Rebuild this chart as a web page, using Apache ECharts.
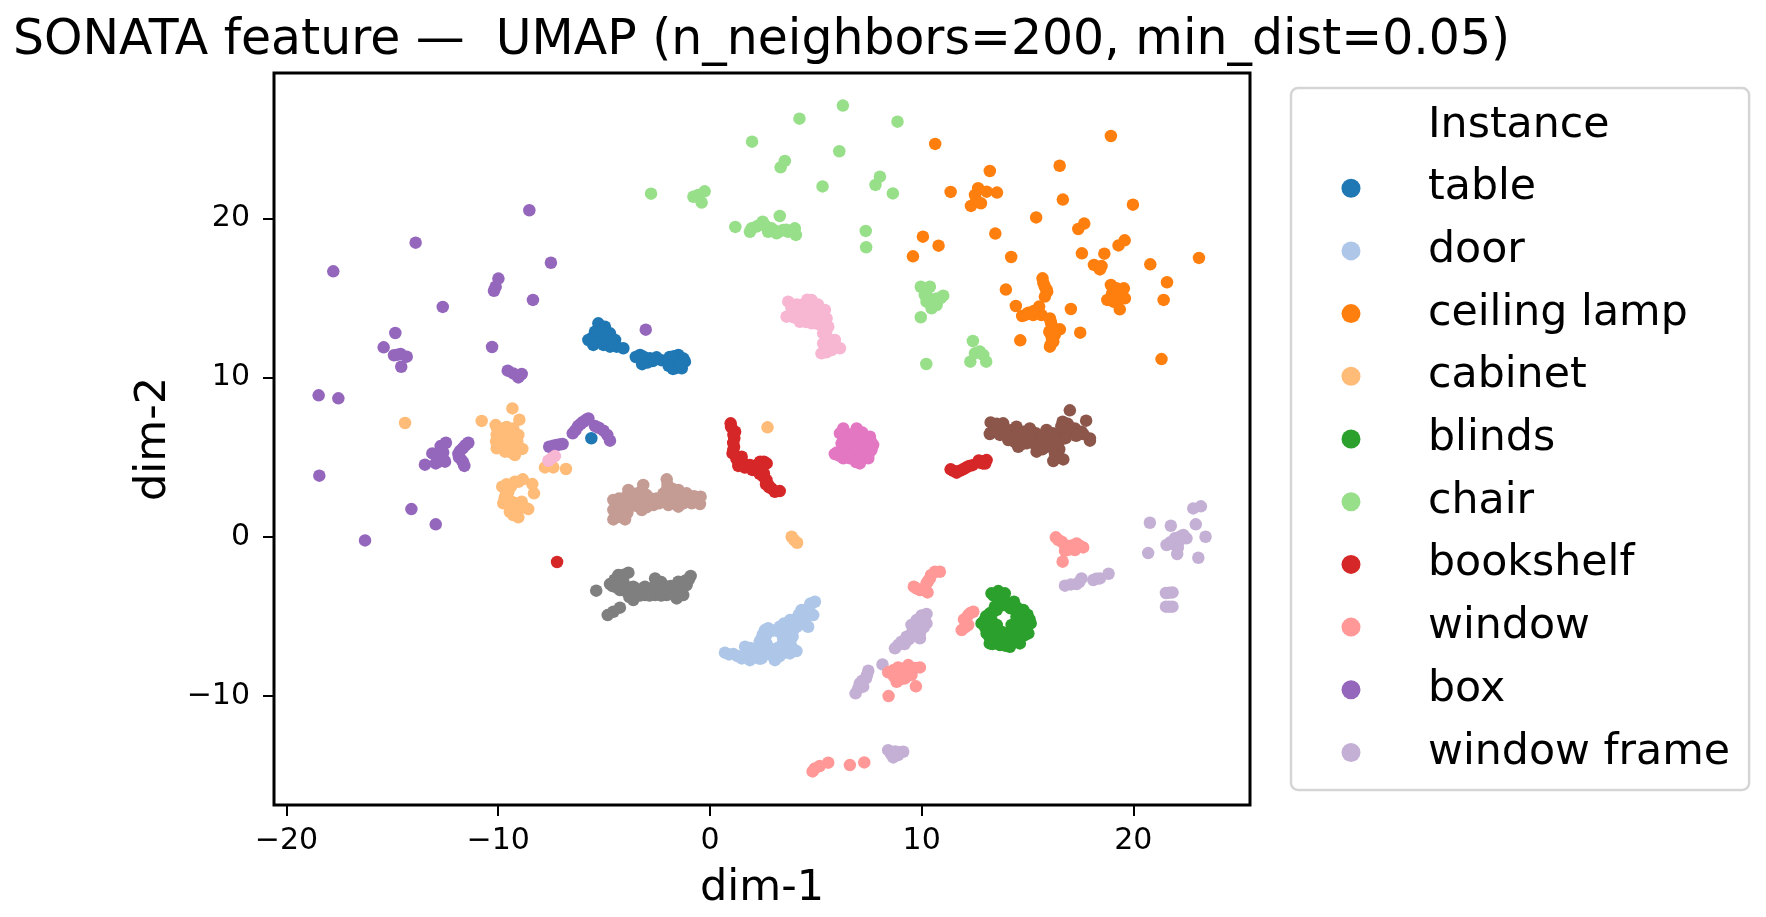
<!DOCTYPE html>
<html>
<head>
<meta charset="utf-8">
<title>SONATA feature UMAP</title>
<style>html,body{margin:0;padding:0;background:#fff}#chart{width:1766px;height:917px}</style>
<script src="https://cdn.jsdelivr.net/npm/echarts@6/dist/echarts.min.js"></script>
</head>
<body>
<div id="chart"></div>
<script>
// Embedding coordinates per instance class: [dim-1, dim-2]
const table = [[-5.27,13.42],[-4.96,13.21],[-5.43,12.89],[-5.03,12.79],[-4.72,12.79],[-5.59,12.48],[-5.19,12.37],[-4.80,12.27],[-4.48,12.37],[-5.51,12.06],[-5.03,12.06],[-4.72,11.95],[-4.41,11.95],[-4.09,11.85],[-5.74,12.37],[-5.1,13.0],[-5.3,12.6],[-4.9,12.5],[-5.4,12.2],[-4.6,12.1],[-3.30,11.43],[-3.07,11.01],[-2.83,11.22],[-2.52,11.28],[-3.14,11.32],[-3.5,11.3],[-2.95,10.95],[-2.7,11.05],[-3.2,10.85],[-2.3,11.1],[-1.49,11.43],[-1.96,11.01],[-1.65,11.01],[-1.18,11.01],[-1.65,10.59],[-1.33,10.59],[-1.41,11.22],[-1.9,11.3],[-1.7,11.35],[-1.55,10.75],[-1.25,11.2],[-1.95,10.75],[-1.75,10.55],[-1.4,10.8],[-5.60,6.19]];
const door = [[0.71,-7.29],[1.11,-7.38],[1.50,-7.65],[1.89,-7.76],[1.66,-6.92],[2.37,-7.65],[2.60,-5.97],[2.44,-6.39],[2.21,-7.02],[4.96,-4.09],[4.88,-4.93],[4.33,-4.61],[3.78,-5.24],[4.64,-5.66],[4.09,-5.66],[3.30,-5.66],[2.60,-5.87],[3.70,-6.08],[3.46,-6.39],[2.67,-6.71],[3.54,-6.92],[4.09,-7.19],[3.78,-7.34],[3.07,-7.76],[2.67,-7.34],[3.15,-7.23],[2.44,-7.65],[0.9,-7.4],[1.3,-7.5],[1.7,-7.4],[2.0,-7.3],[2.0,-7.6],[1.9,-7.0],[2.3,-7.3],[2.6,-7.3],[2.9,-7.45],[3.3,-7.5],[3.5,-7.3],[2.85,-7.05],[2.5,-6.95],[2.35,-6.6],[2.5,-6.15],[2.75,-5.75],[3.0,-5.9],[3.3,-6.0],[3.6,-5.7],[3.9,-6.0],[3.75,-6.45],[3.4,-6.8],[3.2,-7.0],[3.85,-6.9],[4.0,-5.2],[4.3,-5.1],[4.5,-5.2],[4.35,-5.5],[4.6,-4.75],[4.7,-4.4],[4.75,-4.2],[3.5,-5.45],[4.2,-4.9],[3.7,-5.6],[3.9,-6.3],[2.7,-6.1],[2.3,-7.65]];
const ceilingLamp = [[18.94,25.20],[10.64,24.70],[16.52,23.33],[13.22,23.00],[11.37,21.68],[13.56,21.64],[12.67,21.91],[13.07,21.70],[12.52,21.49],[12.59,21.17],[12.80,20.97],[12.33,20.80],[16.67,21.20],[19.98,20.88],[15.41,20.08],[17.68,19.69],[17.40,19.35],[13.48,19.06],[10.06,18.87],[10.80,18.30],[9.59,17.63],[14.23,17.59],[17.57,17.82],[18.63,17.80],[19.59,18.64],[19.30,18.32],[18.14,17.09],[18.42,16.81],[18.50,17.02],[20.80,17.13],[23.10,17.53],[21.59,16.00],[21.43,14.89],[21.33,11.17],[13.98,15.54],[14.45,14.51],[15.71,16.25],[15.82,15.72],[15.93,15.41],[15.82,15.10],[15.55,14.47],[15.04,14.09],[14.75,13.88],[15.27,13.94],[15.66,13.94],[16.06,13.73],[16.14,13.31],[16.53,13.04],[16.03,12.89],[16.29,12.68],[16.22,12.27],[16.06,11.95],[14.66,12.35],[17.49,12.83],[17.05,14.32],[18.94,15.83],[19.21,15.62],[19.55,15.62],[19.29,15.30],[19.60,14.99],[19.21,14.99],[18.77,14.89],[19.05,14.78],[19.36,14.30],[15.75,15.95],[15.9,15.55],[15.3,14.2],[15.5,14.1],[14.9,13.95],[16.1,13.5],[16.2,13.1],[16.15,12.5],[16.1,12.1],[19.0,15.3],[19.4,15.0],[19.0,15.1]];
const cabinet = [[-14.40,7.15],[-10.78,7.28],[-9.33,8.07],[-9.00,7.36],[-10.12,7.02],[-9.76,6.81],[-9.29,6.81],[-10.07,6.40],[-9.60,6.40],[-9.05,6.40],[-9.76,6.19],[-9.29,6.19],[-10.07,5.56],[-9.68,5.35],[-9.21,5.14],[-8.86,5.52],[-9.36,5.66],[-9.76,5.77],[-9.5,6.6],[-9.85,6.1],[-9.5,6.0],[-9.1,6.0],[-9.5,5.6],[-9.4,5.3],[-9.1,5.6],[-9.6,6.9],[-10.05,6.8],[-10.1,6.0],[-9.81,3.15],[-9.52,2.83],[-9.21,3.46],[-8.84,3.61],[-8.39,3.31],[-8.31,2.73],[-9.76,2.10],[-9.36,2.20],[-8.89,2.20],[-8.58,1.74],[-9.05,1.68],[-9.45,1.57],[-9.05,1.22],[-9.29,1.36],[-9.6,3.3],[-9.4,3.15],[-9.05,3.45],[-9.65,2.6],[-9.5,2.3],[-9.2,2.1],[-9.5,1.95],[-9.2,1.7],[-8.8,1.9],[-9.7,2.4],[-7.79,4.36],[-7.40,4.36],[-6.80,4.26],[2.72,6.88],[3.86,0.00],[3.98,-0.21],[4.12,-0.38]];
const blinds = [[13.62,-3.42],[13.30,-3.56],[13.93,-3.56],[13.70,-3.98],[14.36,-4.09],[14.80,-4.61],[15.15,-5.45],[15.04,-6.08],[14.64,-6.71],[14.17,-6.92],[13.70,-6.81],[13.22,-6.71],[12.83,-5.45],[13.22,-4.82],[13.46,-4.40],[14.01,-4.19],[14.48,-5.03],[14.48,-5.66],[13.30,-5.24],[13.30,-5.87],[13.77,-5.97],[14.17,-5.97],[14.80,-5.87],[14.80,-5.24],[14.17,-6.50],[13.07,-6.08],[13.62,-6.50],[14.48,-6.29],[13.9,-4.3],[14.2,-4.5],[14.5,-4.45],[14.2,-4.2],[13.65,-4.35],[14.55,-4.75],[15.0,-4.9],[15.1,-5.2],[15.0,-5.6],[14.95,-5.85],[14.65,-5.4],[14.6,-5.95],[14.3,-6.15],[14.4,-6.6],[14.0,-6.3],[13.85,-6.5],[13.95,-6.85],[13.45,-6.3],[13.35,-6.75],[13.2,-6.3],[13.15,-5.6],[13.0,-5.7],[12.95,-5.3],[13.05,-5.0],[13.2,-5.0],[13.4,-4.7],[13.55,-4.6],[13.4,-3.7],[13.75,-3.65],[13.55,-3.8],[14.85,-6.2],[13.55,-5.55],[14.25,-5.55]];
const chair = [[1.99,24.84],[-2.78,21.57],[-0.25,21.72],[-0.55,21.49],[-0.78,21.38],[-0.39,21.01],[1.20,19.48],[1.89,19.18],[1.97,19.39],[2.49,19.81],[6.28,27.11],[4.23,26.29],[8.86,26.10],[6.11,24.24],[3.54,23.63],[3.34,23.23],[5.32,22.03],[8.03,22.64],[7.82,22.12],[8.64,21.59],[3.30,20.17],[2.67,19.50],[2.91,19.39],[2.75,19.18],[3.15,19.08],[3.46,19.29],[3.70,19.18],[4.01,19.39],[4.06,18.98],[2.55,19.65],[3.05,19.25],[3.3,19.2],[3.6,19.3],[3.85,19.25],[2.2,19.5],[2.35,19.6],[7.36,19.23],[7.38,18.20],[9.96,15.72],[10.39,15.72],[10.15,15.20],[11.02,15.16],[10.71,14.98],[10.23,14.78],[10.47,14.36],[10.71,14.57],[10.2,15.45],[10.35,15.0],[10.6,14.75],[10.9,15.0],[9.96,13.80],[10.22,10.86],[12.42,12.31],[12.75,11.64],[12.52,11.53],[12.30,11.01],[13.05,11.01],[12.91,11.43]];
const bookshelf = [[0.98,7.13],[1.19,6.60],[1.11,6.40],[1.14,5.66],[1.07,5.24],[1.50,5.03],[1.34,4.45],[1.89,4.51],[2.37,4.72],[2.68,4.61],[2.21,4.19],[2.52,3.78],[2.76,3.25],[2.55,4.72],[2.55,3.98],[2.67,3.57],[2.91,3.04],[3.30,2.87],[3.07,2.83],[1.0,6.9],[1.15,6.2],[1.1,5.9],[1.1,5.45],[1.25,4.9],[1.6,4.6],[1.65,4.35],[2.0,4.2],[2.2,4.5],[2.45,4.3],[2.35,3.95],[2.65,3.3],[2.8,3.1],[11.37,4.24],[11.65,4.03],[11.96,4.24],[12.25,4.45],[12.75,4.66],[13.07,4.82],[12.88,4.61],[11.8,4.15],[11.5,4.15],[12.1,4.35],[12.4,4.5],[12.9,4.75],[13.0,4.6],[12.7,4.8],[-7.22,-1.59]];
const windowPts = [[10.63,-2.20],[10.86,-2.20],[10.39,-2.62],[10.23,-2.93],[9.63,-3.14],[9.92,-3.35],[10.28,-3.50],[10.45,-2.4],[9.75,-3.25],[10.1,-3.35],[10.3,-2.8],[12.44,-4.72],[12.20,-4.93],[12.00,-5.20],[12.20,-5.55],[11.89,-5.87],[12.3,-4.8],[12.1,-5.4],[12.05,-5.7],[16.34,-0.04],[16.61,-0.31],[16.92,-0.63],[17.32,-0.42],[17.63,-0.67],[16.77,-0.88],[17.24,-0.84],[16.45,-0.2],[16.75,-0.5],[17.1,-0.55],[17.45,-0.55],[17.0,-0.8],[16.66,-1.57],[9.92,-8.22],[9.37,-8.07],[8.89,-8.22],[8.42,-8.53],[8.82,-9.12],[9.21,-8.91],[9.52,-8.70],[9.13,-8.49],[9.05,-8.3],[8.65,-8.4],[9.0,-8.7],[9.35,-8.4],[9.7,-8.25],[8.95,-9.0],[8.7,-8.8],[9.73,-9.41],[8.44,-10.02],[5.59,-14.21],[5.19,-14.42],[4.85,-14.76],[4.96,-14.57],[6.61,-14.36],[7.29,-14.19]];
const box = [[-8.53,20.53],[-13.90,18.49],[-17.79,16.69],[-7.51,17.23],[-9.99,16.23],[-10.12,15.72],[-10.20,15.47],[-8.36,14.89],[-12.62,14.45],[-14.86,12.81],[-3.03,13.02],[-15.41,11.91],[-14.92,11.41],[-14.61,11.49],[-14.32,11.32],[-14.58,10.69],[-14.75,11.45],[-10.29,11.93],[-9.55,10.44],[-9.29,10.27],[-9.05,10.02],[-8.89,10.23],[-18.48,8.89],[-17.55,8.70],[-5.74,7.44],[-5.98,7.23],[-6.22,6.96],[-6.48,6.50],[-5.43,6.96],[-5.03,6.67],[-4.72,6.04],[-5.85,7.35],[-6.1,7.1],[-6.35,6.7],[-5.25,6.85],[-4.85,6.4],[-7.59,5.66],[-7.24,5.77],[-6.96,5.83],[-7.4,5.72],[-7.1,5.8],[-12.47,5.91],[-12.72,5.70],[-13.11,5.24],[-12.67,5.24],[-13.46,4.53],[-12.95,4.61],[-12.51,4.72],[-12.75,4.93],[-12.6,5.3],[-12.85,4.7],[-12.6,4.9],[-12.7,5.5],[-11.41,5.91],[-11.68,5.56],[-11.88,5.20],[-11.73,4.82],[-11.60,4.45],[-11.8,5.4],[-11.85,5.0],[-11.65,4.65],[-11.55,5.75],[-18.45,3.84],[-14.10,1.74],[-12.95,0.78],[-16.29,-0.23]];
const windowFrame = [[10.23,-4.86],[9.76,-5.24],[9.52,-5.55],[10.23,-5.45],[9.92,-6.08],[9.52,-6.08],[9.92,-6.39],[9.05,-6.60],[8.74,-7.02],[9.29,-6.29],[10.0,-4.95],[10.05,-5.2],[9.85,-5.5],[9.75,-5.8],[10.1,-5.7],[9.7,-6.2],[9.4,-6.45],[9.2,-6.75],[8.9,-6.8],[8.15,-8.03],[7.48,-8.43],[7.37,-8.91],[7.08,-9.22],[7.24,-9.43],[6.88,-9.85],[7.42,-8.7],[7.2,-9.05],[7.0,-9.55],[8.42,-13.42],[8.66,-13.88],[9.13,-13.52],[8.89,-13.73],[8.55,-13.65],[8.75,-13.5],[8.95,-13.55],[16.77,-3.08],[17.32,-2.98],[17.55,-2.62],[18.11,-2.72],[18.42,-2.62],[18.83,-2.33],[17.05,-3.0],[17.45,-2.85],[18.25,-2.65],[20.78,0.88],[21.77,0.69],[22.95,0.78],[23.41,0.00],[22.83,1.78],[23.19,1.91],[22.36,0.11],[21.96,-0.10],[22.51,-0.10],[21.57,-0.52],[21.96,-0.52],[22.07,-1.09],[22.2,0.0],[22.15,-0.3],[21.75,-0.35],[22.1,-0.7],[20.70,-1.03],[23.07,-1.32],[21.54,-3.54],[21.85,-3.50],[21.7,-3.52],[21.54,-4.40],[21.85,-4.40],[21.7,-4.40]];
// Classes plotted without a legend entry
const brownGroup = [[17.00,7.95],[17.77,7.30],[16.66,7.23],[13.26,7.19],[13.26,6.54],[13.85,7.13],[14.48,6.92],[15.11,6.81],[15.90,6.71],[16.85,6.92],[17.24,6.81],[17.55,6.60],[17.95,6.18],[17.95,6.04],[17.63,6.46],[13.22,6.46],[13.70,6.40],[14.09,6.08],[14.56,5.66],[14.96,5.87],[15.43,5.35],[15.90,5.66],[16.37,5.87],[16.22,4.76],[16.69,4.86],[16.45,5.35],[14.48,6.29],[15.27,6.29],[15.90,6.40],[16.85,6.40],[13.55,7.1],[13.5,6.6],[13.9,6.7],[14.2,6.7],[14.2,6.3],[14.5,6.5],[14.8,6.6],[14.8,6.2],[15.1,6.4],[15.1,6.0],[14.4,5.95],[14.7,5.8],[15.4,6.5],[15.4,6.1],[15.7,6.3],[15.7,5.9],[15.4,5.7],[16.0,6.1],[16.2,6.5],[16.2,6.1],[16.2,5.6],[16.5,6.4],[16.5,6.0],[16.5,5.5],[16.8,6.7],[16.8,6.2],[17.1,6.5],[17.3,6.35],[16.4,5.0],[16.3,5.2],[15.7,5.5],[16.9,7.1],[16.6,6.95]];
const tanGroup = [[-4.56,2.31],[-4.56,1.09],[-4.33,1.99],[-4.01,1.09],[-3.85,2.94],[-4.09,2.41],[-3.70,1.99],[-3.15,3.25],[-3.22,1.68],[-2.99,2.62],[-2.67,1.99],[-2.04,3.61],[-2.04,2.94],[-1.96,1.99],[-1.49,2.94],[-1.49,1.89],[-1.10,2.73],[-0.86,2.10],[-0.44,2.52],[-0.47,2.06],[-2.52,2.41],[-4.09,1.68],[-4.56,1.68],[-4.3,2.4],[-4.3,1.6],[-4.3,1.25],[-3.9,2.6],[-3.7,2.6],[-3.9,1.9],[-3.9,1.5],[-3.95,2.2],[-3.5,2.7],[-3.5,2.3],[-3.5,1.95],[-3.25,2.85],[-3.25,2.4],[-3.25,2.0],[-3.0,2.2],[-3.0,1.85],[-2.8,2.4],[-2.8,2.15],[-2.4,2.1],[-2.2,2.3],[-2.2,2.7],[-1.95,2.5],[-2.0,3.25],[-1.75,3.0],[-1.7,2.5],[-1.7,2.1],[-1.3,2.4],[-1.25,2.1],[-1.0,2.4],[-0.75,2.55],[-0.7,2.2],[-1.85,2.8]];
const magentaGroup = [[6.14,6.50],[6.22,5.87],[5.90,5.20],[6.30,4.93],[7.08,4.61],[7.48,4.93],[7.63,5.45],[7.71,5.77],[7.56,6.29],[6.30,6.81],[6.93,6.81],[7.40,6.29],[6.61,6.19],[7.08,6.19],[6.61,5.56],[7.08,5.56],[6.61,4.93],[7.32,5.66],[6.4,6.5],[6.8,6.5],[7.2,6.55],[6.35,6.1],[6.85,6.0],[7.3,6.0],[6.35,5.7],[6.85,5.8],[7.35,5.35],[6.3,5.3],[6.85,5.25],[7.1,5.0],[6.5,5.1],[6.9,4.7],[6.1,5.1],[7.5,5.2],[6.0,5.3],[7.6,6.0]];
const pinkGroup = [[3.70,14.78],[4.80,14.89],[3.62,13.84],[4.25,14.26],[4.96,14.47],[5.43,14.26],[5.51,13.73],[4.80,13.42],[4.25,13.52],[5.59,13.21],[5.35,12.79],[5.90,12.37],[6.14,11.85],[5.35,12.16],[5.27,11.53],[5.75,11.74],[3.93,14.15],[5.04,13.84],[4.56,13.84],[3.85,14.4],[4.1,14.6],[4.4,14.6],[4.6,14.9],[5.1,14.6],[3.95,13.8],[4.3,13.9],[4.6,14.3],[4.95,14.0],[5.25,14.0],[4.55,13.5],[5.05,13.4],[5.25,13.3],[5.5,12.95],[5.55,12.5],[5.7,12.2],[5.9,12.0],[5.55,11.9],[5.5,11.6],[-7.48,4.93],[-7.63,4.78],[-7.32,5.07]];
const grayGroup = [[-3.85,-2.26],[-4.33,-2.41],[-4.72,-2.98],[-5.37,-3.39],[-4.25,-3.35],[-3.62,-3.14],[-3.62,-3.98],[-3.07,-3.67],[-3.07,-3.14],[-2.59,-2.62],[-2.59,-3.67],[-2.04,-3.14],[-2.04,-3.67],[-1.57,-3.88],[-1.26,-3.67],[-1.49,-2.83],[-1.10,-3.04],[-0.91,-2.47],[-3.85,-3.56],[-4.1,-2.4],[-4.5,-2.7],[-4.6,-3.1],[-4.4,-3.2],[-4.0,-3.4],[-3.8,-3.2],[-3.4,-3.3],[-3.3,-3.7],[-2.85,-3.4],[-2.85,-3.7],[-2.6,-3.1],[-2.35,-3.3],[-2.3,-3.7],[-2.3,-2.85],[-1.85,-3.1],[-1.8,-3.5],[-1.55,-3.3],[-1.3,-3.0],[-1.3,-3.3],[-1.15,-2.75],[-1.0,-2.7],[-3.8,-3.8],[-4.1,-2.75],[-4.25,-4.46],[-4.56,-4.72],[-4.83,-4.93]];

const xTicks = [-20, -10, 0, 10, 20];
const yTicks = [-10, 0, 10, 20];
const legendTitle = 'Instance';
const legendNames = ['table', 'door', 'ceiling lamp', 'cabinet', 'blinds', 'chair', 'bookshelf', 'window', 'box', 'window frame'];

const FONT = 'DejaVu Sans';
const minusLabel = v => String(v).replace('-', '\u2212');

// Drawing order: later series sit on top where clusters touch.
const layers = [
  ['box', box, '#9467bd'],
  ['window frame', windowFrame, '#c5b0d5'],
  ['table', table, '#1f77b4'],
  ['door', door, '#aec7e8'],
  ['ceiling lamp', ceilingLamp, '#ff7f0e'],
  ['cabinet', cabinet, '#ffbb78'],
  ['blinds', blinds, '#2ca02c'],
  ['chair', chair, '#98df8a'],
  ['bookshelf', bookshelf, '#d62728'],
  ['window', windowPts, '#ff9896'],
  ['brown group', brownGroup, '#8c564b'],
  ['tan group', tanGroup, '#c49c94'],
  ['magenta group', magentaGroup, '#e377c2'],
  ['pink group', pinkGroup, '#f7b6d2'],
  ['gray group', grayGroup, '#7f7f7f']
];

const series = layers.map(([name, data, color]) => ({
  name, type: 'scatter', data, symbol: 'circle', symbolSize: 12.5,
  itemStyle: { color, opacity: 1 }, silent: true, animation: false
}));
// Header row of the legend: a series without marks.
series.push({ name: legendTitle, type: 'scatter', data: [], itemStyle: { color: 'rgba(0,0,0,0)' } });

const axisCommon = {
  type: 'value',
  splitLine: { show: false },
  axisLine: { show: false, onZero: false },
  nameLocation: 'middle',
  nameTextStyle: { fontFamily: FONT, fontSize: 43, color: '#000' }
};

const chart = echarts.init(document.getElementById('chart'), null, { renderer: 'canvas' });
chart.setOption({
  animation: false,
  backgroundColor: '#fff',
  title: {
    text: 'SONATA feature \u2014  UMAP (n_neighbors=200, min_dist=0.05)',
    left: 8, top: 12,
    textStyle: { fontFamily: FONT, fontSize: 48.9, fontWeight: 'normal', color: '#000' }
  },
  grid: { left: 274, top: 73, width: 976, height: 732, outerBoundsMode: 'none', show: true, borderColor: '#000', borderWidth: 3, backgroundColor: '#fff' },
  xAxis: Object.assign({}, axisCommon, {
    min: -20.59, max: 25.51,
    name: 'dim-1', nameGap: 62,
    axisTick: { show: true, length: 11, lineStyle: { color: '#000', width: 2 }, customValues: xTicks },
    axisLabel: { fontFamily: FONT, fontSize: 30, color: '#000', margin: 21, customValues: xTicks, formatter: minusLabel }
  }),
  yAxis: Object.assign({}, axisCommon, {
    min: -16.87, max: 29.16,
    name: 'dim-2', nameGap: 98,
    axisTick: { show: true, length: 11, lineStyle: { color: '#000', width: 2 }, customValues: yTicks },
    axisLabel: { fontFamily: FONT, fontSize: 30, color: '#000', margin: 24, customValues: yTicks, formatter: minusLabel, padding: [8, 0, 0, 0] }
  }),
  legend: {
    left: 1291, top: 88, orient: 'vertical', selectedMode: false,
    backgroundColor: '#fff', borderColor: '#d5d5d5', borderWidth: 2.5, borderRadius: 7,
    padding: [16, 19, 16, 20], itemWidth: 80, itemHeight: 19, itemGap: 19.7,
    textStyle: { fontFamily: FONT, fontSize: 42.7, color: '#000', lineHeight: 42, padding: [0, 0, 0, 32] },
    data: [{ name: legendTitle, icon: 'none' }].concat(legendNames.map(name => ({ name, icon: 'circle' })))
  },
  series
});
</script>
</body>
</html>
